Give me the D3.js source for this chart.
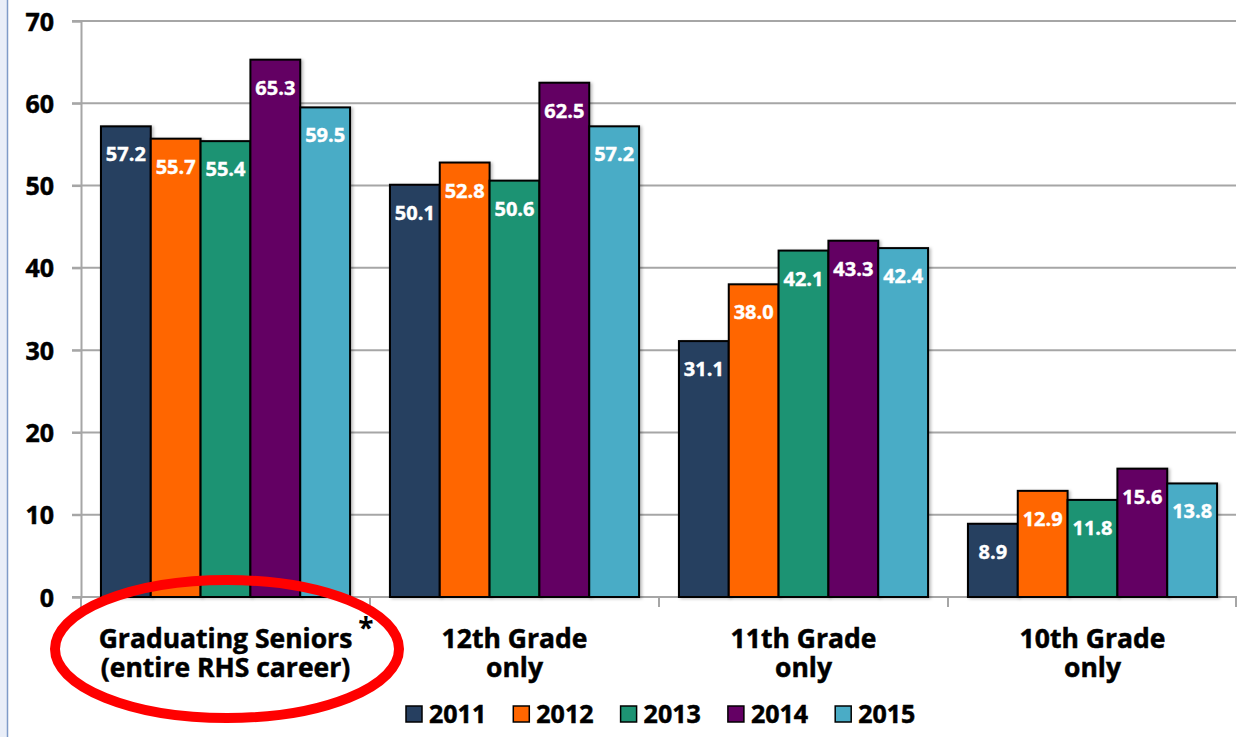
<!DOCTYPE html>
<html>
<head>
<meta charset="utf-8">
<script src="https://cdn.jsdelivr.net/npm/d3@7"></script>
<style>
  body { margin: 0; background: #fff; }
  svg { display: block; }
  text { font-family: "Open Sans", Lato, sans-serif; font-weight: bold; }
</style>
</head>
<body>
<script>
// data
var categories = [
  ["Graduating Seniors", "(entire RHS career)"],
  ["12th Grade", "only"],
  ["11th Grade", "only"],
  ["10th Grade", "only"]
];
var years = ["2011", "2012", "2013", "2014", "2015"];
var values = {
  "2011": [57.2, 50.1, 31.1, 8.9],
  "2012": [55.7, 52.8, 38.0, 12.9],
  "2013": [55.4, 50.6, 42.1, 11.8],
  "2014": [65.3, 62.5, 43.3, 15.6],
  "2015": [59.5, 57.2, 42.4, 13.8]
};
var yTicks = [0, 10, 20, 30, 40, 50, 60, 70];
var colors = ["#263f60", "#ff6600", "#1d9373", "#640064", "#4aacc6"];

var W = 1246, H = 737;
var svg = d3.select("body").append("svg").attr("width", W).attr("height", H);

// left frame strip
svg.append("rect").attr("x", 0).attr("y", 0).attr("width", 7).attr("height", H).attr("fill", "#e9eef8");
svg.append("line").attr("x1", 7.5).attr("x2", 7.5).attr("y1", 0).attr("y2", H)
  .attr("stroke", "#7f9bc8").attr("stroke-width", 1.5);

var defs = svg.append("defs");
var f = defs.append("filter").attr("id", "shadow").attr("x", "-10%").attr("y", "-10%").attr("width", "130%").attr("height", "130%");
f.append("feDropShadow").attr("dx", 2).attr("dy", 1).attr("stdDeviation", 1.5).attr("flood-color", "#000").attr("flood-opacity", 0.25);

var x0 = d3.scaleBand().domain(d3.range(categories.length)).range([81, 1237]);
var x1 = d3.scaleBand().domain(years).range([0, x0.bandwidth()]).paddingOuter(0.4).paddingInner(0);
var y = d3.scaleLinear().domain([0, 70]).range([597, 21]);

// gridlines
svg.append("g").selectAll("line").data(yTicks.slice(1)).enter().append("line")
  .attr("x1", 72).attr("x2", 1236)
  .attr("y1", function (d) { return y(d); }).attr("y2", function (d) { return y(d); })
  .attr("stroke", "#a6a6a6").attr("stroke-width", 2);

// y axis
var yAxis = svg.append("g").attr("transform", "translate(81,0)")
  .call(d3.axisLeft(y).tickValues(yTicks).tickSize(9).tickPadding(18));
yAxis.select(".domain").attr("stroke", "#a6a6a6").attr("stroke-width", 2);
yAxis.selectAll(".tick line").attr("stroke", "#a6a6a6").attr("stroke-width", 2);
yAxis.selectAll(".tick text").attr("fill", "#000").style("font-size", "25px").attr("dy", "0.36em")
  .style("font-family", "'Open Sans', sans-serif").style("font-weight", "bold")
  .attr("stroke", "#000").attr("stroke-width", 0.5);

// x axis
var xAxisG = svg.append("g");
xAxisG.append("line").attr("x1", 72).attr("x2", 1237).attr("y1", y(0)).attr("y2", y(0))
  .attr("stroke", "#a6a6a6").attr("stroke-width", 2);
xAxisG.selectAll(".xt").data(d3.range(categories.length + 1)).enter().append("line")
  .attr("x1", function (i) { return i < categories.length ? x0(i) : x0(i - 1) + x0.bandwidth() - 1; })
  .attr("x2", function (i) { return i < categories.length ? x0(i) : x0(i - 1) + x0.bandwidth() - 1; })
  .attr("y1", y(0)).attr("y2", y(0) + 10)
  .attr("stroke", "#a6a6a6").attr("stroke-width", 2);

// bars
var groups = svg.append("g").selectAll("g").data(categories).enter().append("g")
  .attr("transform", function (d, i) { return "translate(" + x0(i) + ",0)"; });

years.forEach(function (yr, k) {
  groups.append("rect")
    .attr("x", function (d, i) { return x1(yr); })
    .attr("y", function (d, i) { return y(values[yr][i]); })
    .attr("width", x1.bandwidth())
    .attr("height", function (d, i) { return y(0) - y(values[yr][i]); })
    .attr("fill", colors[k]).attr("stroke", "#000").attr("stroke-width", 2)
    .attr("filter", "url(#shadow)");
});
years.forEach(function (yr, k) {
  groups.append("text")
    .attr("x", function (d, i) { return x1(yr) + x1.bandwidth() / 2; })
    .attr("y", function (d, i) { return y(values[yr][i]) + 35; })
    .attr("text-anchor", "middle").attr("fill", "#fff").style("font-size", "20px")
    .attr("stroke", "#fff").attr("stroke-width", 0.4)
    .text(function (d, i) { return values[yr][i].toFixed(1); });
});

// category labels (two lines in one text)
groups.append("text")
  .attr("text-anchor", "middle").attr("fill", "#000").style("font-size", "26.5px")
  .attr("stroke", "#000").attr("stroke-width", 0.5)
  .each(function (d) {
    var t = d3.select(this);
    d.forEach(function (line, j) {
      t.append("tspan").attr("x", x0.bandwidth() / 2).attr("y", 648 + j * 29).text(line);
    });
  });

// asterisk
svg.append("text").attr("x", 366).attr("y", 638).attr("text-anchor", "middle")
  .style("font-size", "28px").attr("fill", "#000").text("*");

// red ellipse
svg.append("ellipse").attr("cx", 227).attr("cy", 649).attr("rx", 172).attr("ry", 69)
  .attr("fill", "none").attr("stroke", "#ff0000").attr("stroke-width", 10);

// legend
var leg = svg.append("g").selectAll("g").data(years).enter().append("g")
  .attr("transform", function (d, i) { return "translate(" + (406 + i * 107.3) + ",706)"; });
leg.append("rect").attr("width", 16).attr("height", 16)
  .attr("fill", function (d, i) { return colors[i]; }).attr("stroke", "#000").attr("stroke-width", 1.5);
leg.append("text").attr("x", 23).attr("y", 16.5).attr("fill", "#000").style("font-size", "25px")
  .attr("stroke", "#000").attr("stroke-width", 0.5)
  .text(function (d) { return d; });
</script>
</body>
</html>
